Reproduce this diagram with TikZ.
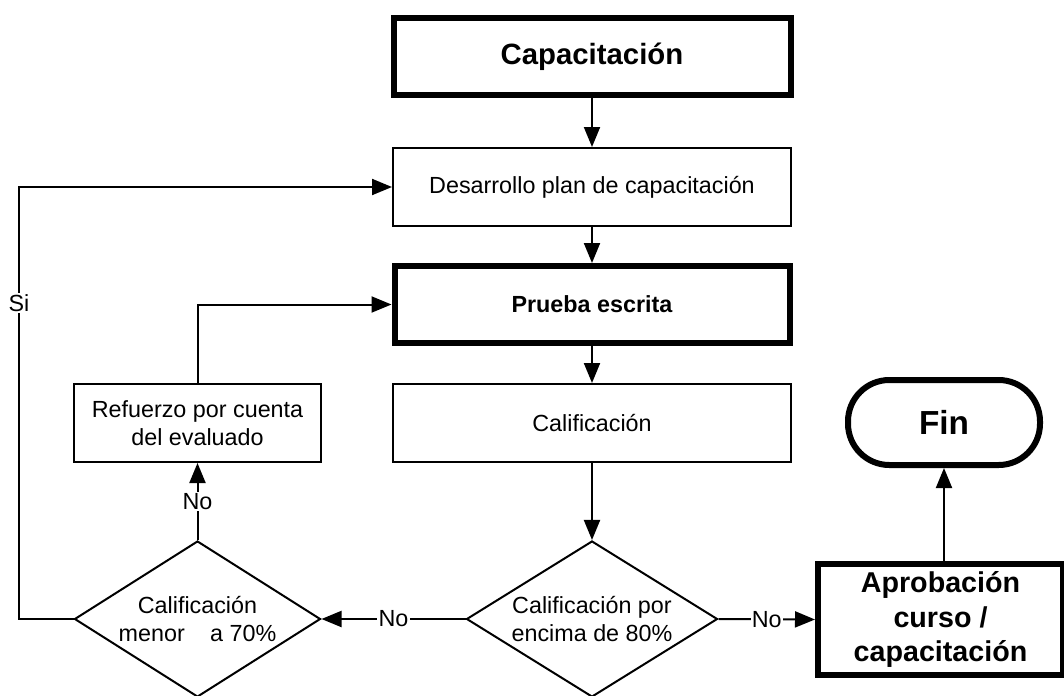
\documentclass[tikz,border=0pt]{standalone}
\usepackage{fontspec}
\setmainfont{Liberation Sans}
\usetikzlibrary{shapes.geometric,arrows.meta}

\begin{document}
\begin{tikzpicture}[x=0.75pt,y=-0.75pt,
        caja/.style={draw=black, line width=1.5pt, fill=white, align=center, inner sep=0pt, font=\fontsize{17.5}{21}\selectfont},
        cajagruesa/.style={caja, line width=4.5pt},
        decision/.style={draw=black, diamond, line width=1.5pt, fill=white, align=center, inner sep=0pt, font=\fontsize{17.5}{21}\selectfont},
        flecha/.style={line width=1.5pt, -{Triangle[length=15pt,width=12pt]}},
        etiqueta/.style={fill=white, inner sep=1pt, font=\fontsize{17.5}{21}\selectfont}]
        \fill[white] (0,0) rectangle (1064,696);
        \useasboundingbox (0,0) rectangle (1064,696);
        % columna central
        \node[cajagruesa, minimum width=297.75pt, minimum height=57.75pt, font=\fontsize{22}{26}\bfseries] (capacitacion) at (592,56.5) {Capacitación};
        \node[caja, minimum width=298.5pt, minimum height=58.5pt] (desarrollo) at (592,187) {Desarrollo plan de capacitación};
        \node[cajagruesa, minimum width=296.25pt, minimum height=57.75pt, font=\fontsize{17.5}{21}\bfseries] (prueba) at (592,304.5) {Prueba escrita};
        \node[caja, minimum width=298.5pt, minimum height=58.5pt] (calificacion) at (592,423) {Calificación};
        \node[decision, aspect=1.65, minimum width=188.25pt, minimum height=117pt] (encima) at (592,619) {Calificación por\\encima de 80\%};
        % lado izquierdo
        \node[caja, minimum width=185.25pt, minimum height=58.5pt] (refuerzo) at (197.5,423) {Refuerzo por cuenta\\del evaluado};
        \node[decision, aspect=1.62, minimum width=184.5pt, minimum height=117pt] (menor) at (197.5,619) {Calificación\\menor\hspace{19pt}a 70\%};
        \coordinate (izq) at (19,619);
        % lado derecho
        \node[cajagruesa, minimum width=183.75pt, minimum height=83.25pt, font=\fontsize{21.5}{26}\bfseries] (aprobacion) at (940.5,619.5) {Aprobación\\curso /\\capacitación};
        \node[draw=black, line width=4.5pt, rounded corners=31pt, minimum width=144pt, minimum height=63.75pt, inner sep=0pt, font=\fontsize{25}{30}\bfseries] (fin) at (944,422.5) {Fin};
        % conectores
        \draw[flecha] (capacitacion) -- (desarrollo);
        \draw[flecha] (desarrollo) -- (prueba);
        \draw[flecha] (prueba) -- (calificacion);
        \draw[flecha] (calificacion) -- (encima);
        \draw[flecha] (encima.west) -- node[etiqueta]{No} (menor.east);
        \draw[flecha] (encima.east) -- node[etiqueta]{No} (aprobacion.west);
        \draw[flecha] (fin.south |- aprobacion.north) -- (fin.south);
        \draw[flecha] (menor.north) -- node[etiqueta]{No} (refuerzo.south);
        \draw[flecha] (refuerzo.north) |- (prueba.west);
        \draw[flecha] (menor.west) -- (izq) |- node[pos=0.366, etiqueta]{Si} (desarrollo.west);
    \end{tikzpicture}
\end{document}
